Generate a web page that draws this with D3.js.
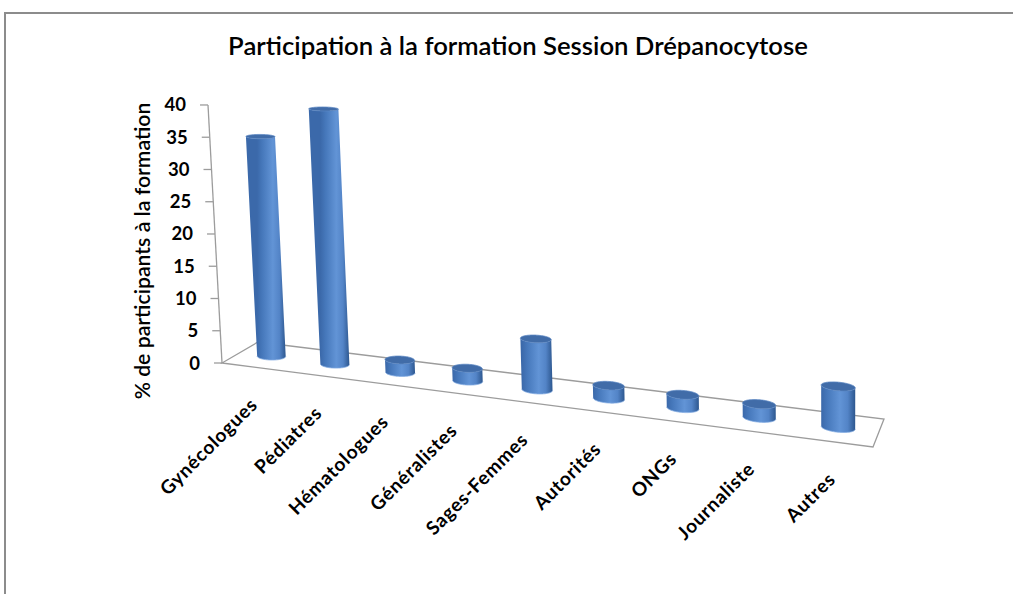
<!DOCTYPE html>
<html>
<head>
<meta charset="utf-8">
<script src="https://cdn.jsdelivr.net/npm/d3@7"></script>
<style>
  body { margin: 0; background: #ffffff; }
  text { font-family: Lato, "Open Sans", "DejaVu Sans", sans-serif; fill: #000; }
</style>
</head>
<body>
<svg id="chart" width="1013" height="594"></svg>
<script>
// ---- data ----
const categories = ["Gynécologues", "Pédiatres", "Hématologues", "Généralistes", "Sages-Femmes",
                    "Autorités", "ONGs", "Journaliste", "Autres"];
const values = [34.5, 39.5, 1.9, 1.9, 7.5, 1.9, 1.9, 1.9, 5.7];
const valueTicks = [0, 5, 10, 15, 20, 25, 30, 35, 40];
const chartTitle = "Participation à la formation Session Drépanocytose";
const valueAxisTitle = "% de participants à la formation";

// ---- perspective setup ----
const svg = d3.select("#chart");
const W = 1013, H = 594;

// floor corners on screen: front-left, front-right, back-right, back-left
const floorQuad = [[222, 363], [873, 447], [884, 419], [258, 342]];
// vanishing point of the vertical edges (far below the floor)
const vertVP = [840, 11760];

// projective map from the unit square (u across, v into depth) to the floor quad
function makeFloor(q) {
  const [[x0, y0], [x1, y1], [x2, y2], [x3, y3]] = q;
  const dx1 = x1 - x2, dx2 = x3 - x2, dx3 = x0 - x1 + x2 - x3;
  const dy1 = y1 - y2, dy2 = y3 - y2, dy3 = y0 - y1 + y2 - y3;
  const den = dx1 * dy2 - dx2 * dy1;
  const g = (dx3 * dy2 - dx2 * dy3) / den;
  const h = (dx1 * dy3 - dx3 * dy1) / den;
  const a = x1 - x0 + g * x1, b = x3 - x0 + h * x3, c = x0;
  const d = y1 - y0 + g * y1, e = y3 - y0 + h * y3, f = y0;
  return (u, v) => {
    const w = g * u + h * v + 1;
    return { x: (a * u + b * v + c) / w, y: (d * u + e * v + f) / w, w };
  };
}
const floor = makeFloor(floorQuad);

// raise a floor point by a height given in front-plane pixels
function lift(p, px) {
  const dx = p.x - vertVP[0], dy = p.y - vertVP[1];
  const L = Math.hypot(dx, dy);
  const k = px / p.w;
  return { x: p.x + dx / L * k, y: p.y + dy / L * k, w: p.w };
}

// scale a text's font size so it spans the wanted length
function fitSize(sel, target) {
  const fs = parseFloat(sel.attr("font-size"));
  const len = sel.node().getComputedTextLength();
  sel.attr("font-size", fs * target / len);
}

// ---- scales ----
const x = d3.scaleBand().domain(categories).range([0, 1]).paddingInner(0).paddingOuter(0);
const y = d3.scaleLinear().domain([0, 40]).range([0, 258.4]);

const line = d3.line().x(p => p.x).y(p => p.y);

// ---- outer frame ----
svg.append("path")
  .attr("d", `M5,${H} V13 H${W}`)
  .attr("fill", "none").attr("stroke", "#8c8c8c").attr("stroke-width", 2);

// ---- title ----
const title = svg.append("text")
  .attr("x", 518).attr("y", 55)
  .attr("text-anchor", "middle")
  .attr("font-size", 20).attr("font-weight", 600)
  .text(chartTitle);
fitSize(title, 580);

// ---- floor outline ----
const corners = [floor(0, 0), floor(1, 0), floor(1, 1), floor(0, 1)];
svg.append("path")
  .attr("d", line(corners) + "Z")
  .attr("fill", "none").attr("stroke", "#9c9c9c").attr("stroke-width", 1.3);

// ---- value axis ----
const axisBase = floor(0, 0);
const axisTop = lift(axisBase, y(40));
const axisG = svg.append("g");
axisG.append("line")
  .attr("x1", axisBase.x).attr("y1", axisBase.y)
  .attr("x2", axisTop.x).attr("y2", axisTop.y)
  .attr("stroke", "#9c9c9c").attr("stroke-width", 1.3);
valueTicks.forEach(t => {
  const p = lift(axisBase, y(t));
  axisG.append("line")
    .attr("x1", p.x - 8).attr("y1", p.y).attr("x2", p.x).attr("y2", p.y)
    .attr("stroke", "#9c9c9c").attr("stroke-width", 1.3);
  axisG.append("text")
    .attr("x", p.x - 22).attr("y", p.y + 6.5)
    .attr("text-anchor", "end")
    .attr("font-size", 18.5).attr("font-weight", "bold")
    .text(t);
});

const yTitle = svg.append("text")
  .attr("transform", "translate(143,251) rotate(-90)")
  .attr("dy", "0.35em")
  .attr("text-anchor", "middle")
  .attr("font-size", 18).attr("font-weight", 600)
  .text(valueAxisTitle);
fitSize(yTitle, 297);

// ---- cylinders ----
const defs = svg.append("defs");
const ru = x.bandwidth() * 0.21;   // radius across
const rv = 0.16;                   // radius into depth
const N = 120;
const angles = d3.range(N).map(i => i / N * 2 * Math.PI);

categories.forEach((cat, i) => {
  const uc = x(cat) + x.bandwidth() / 2;
  const vc = 0.5;
  const centre = floor(uc, vc);
  const hpx = y(values[i]);
  const bottom = angles.map(t => floor(uc + ru * Math.cos(t), vc + rv * Math.sin(t)));
  const top = bottom.map(p => lift(p, hpx));

  // screen "up" at this bar and the perpendicular used for silhouettes
  let ux = centre.x - vertVP[0], uy = centre.y - vertVP[1];
  const L = Math.hypot(ux, uy); ux /= L; uy /= L;
  const px = -uy, py = ux;
  const proj = bottom.map(p => (p.x - centre.x) * px + (p.y - centre.y) * py);
  const iL = d3.minIndex(proj), iR = d3.maxIndex(proj);

  const walk = (from, to) => { const r = []; for (let k = from; ; k = (k + 1) % N) { r.push(k); if (k === to) break; } return r; };
  const arcA = walk(iL, iR), arcB = walk(iR, iL).reverse();
  const downness = arc => d3.mean(arc, k => -(bottom[k].x * ux + bottom[k].y * uy));
  const front = downness(arcA) > downness(arcB) ? arcA : arcB;   // runs from iL to iR

  const gid = "side" + i;
  const grad = defs.append("linearGradient").attr("id", gid)
    .attr("gradientUnits", "userSpaceOnUse")
    .attr("x1", bottom[iL].x).attr("y1", centre.y)
    .attr("x2", bottom[iR].x).attr("y2", centre.y);
  [[0, "#3b69aa"], [0.18, "#4678bb"], [0.55, "#6294d6"], [0.78, "#5384c7"], [1, "#2d578f"]]
    .forEach(([o, c]) => grad.append("stop").attr("offset", o).attr("stop-color", c));

  const sidePts = front.map(k => bottom[k]).concat(front.slice().reverse().map(k => top[k]));
  const g = svg.append("g");
  g.append("path").attr("d", line(sidePts) + "Z").attr("fill", `url(#${gid})`);
  g.append("path").attr("d", line(front.map(k => bottom[k])))
    .attr("fill", "none").attr("stroke", "#86aee3").attr("stroke-width", 1).attr("opacity", 0.8);
  g.append("path").attr("d", line(top) + "Z")
    .attr("fill", "#416ca8").attr("stroke", "#5a86c3").attr("stroke-width", 0.8);
});

// ---- category labels ----
const labelG = svg.append("g");
const labelSize = 19;
categories.forEach((cat, i) => {
  const uc = x(cat) + x.bandwidth() / 2;
  const p = floor(uc, 0);
  labelG.append("text")
    .attr("transform", `translate(${p.x + 5},${p.y + 39}) rotate(-45)`)
    .attr("text-anchor", "end")
    .attr("font-size", labelSize).attr("font-weight", "bold")
    .text(cat);
});
{
  // one spacing for every label, set from the first one
  const first = labelG.select("text");
  const len = first.node().getComputedTextLength();
  const ls = (128 - len) / first.text().length;
  labelG.selectAll("text").attr("letter-spacing", ls);
}
</script>
</body>
</html>
